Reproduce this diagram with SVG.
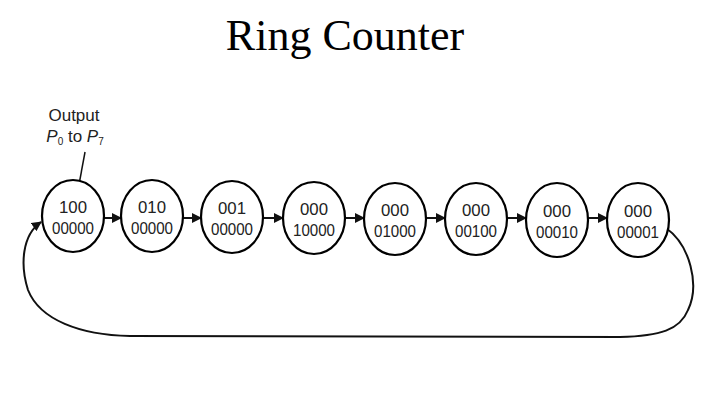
<svg xmlns="http://www.w3.org/2000/svg" width="720" height="405" viewBox="0 0 720 405">
<defs>
<style>
.n{fill:#fff;stroke:#000;stroke-width:2.2}
.t{font-family:"Liberation Sans",Arial,sans-serif;font-size:17px;fill:#222;text-anchor:middle}
.c{fill:none;stroke:#111;stroke-width:2}
</style>
<marker id="ah" viewBox="0 0 10 10" refX="9" refY="5" markerWidth="5" markerHeight="5" orient="auto" markerUnits="strokeWidth">
<path d="M0,0 L10,5 L0,10 z" fill="#111"/>
</marker>
</defs>
<rect width="720" height="405" fill="#fff"/>
<text x="345" y="50" font-family="Liberation Serif,'Times New Roman',serif" font-size="44" text-anchor="middle" fill="#000">Ring Counter</text>
<g id="label">
<text x="74" y="121" class="t" font-size="16">Output</text>
<text x="75" y="142" class="t" font-size="16"><tspan font-style="italic">P</tspan><tspan font-size="10" dy="3">0</tspan><tspan dy="-3"> to </tspan><tspan font-style="italic">P</tspan><tspan font-size="10" dy="3">7</tspan></text>
<line x1="85" y1="152" x2="78" y2="190" stroke="#111" stroke-width="1.5"/>
</g>
<g id="connectors">
<line class="c" x1="104" y1="218" x2="121" y2="218" marker-end="url(#ah)"/>
<line class="c" x1="183" y1="218" x2="201" y2="218" marker-end="url(#ah)"/>
<line class="c" x1="263" y1="218" x2="283" y2="218" marker-end="url(#ah)"/>
<line class="c" x1="345" y1="218" x2="364" y2="218" marker-end="url(#ah)"/>
<line class="c" x1="426" y1="218" x2="445" y2="218" marker-end="url(#ah)"/>
<line class="c" x1="507" y1="218" x2="526" y2="218" marker-end="url(#ah)"/>
<line class="c" x1="588" y1="218" x2="607" y2="218" marker-end="url(#ah)"/>
<path class="c" d="M666,228 C690,245 700,285 688,310 C680,330 660,336 620,337 L130,336 C80,335 40,320 28,290 C20,265 22,235 41,222" marker-end="url(#ah)"/>
</g>
<g id="n1"><ellipse class="n" cx="73" cy="216" rx="31" ry="36"/><text class="t" x="73" y="213" textLength="28" lengthAdjust="spacingAndGlyphs">100</text><text class="t" x="73" y="234" textLength="42" lengthAdjust="spacingAndGlyphs">00000</text></g>
<g id="n2"><ellipse class="n" cx="152" cy="216" rx="31" ry="36"/><text class="t" x="152" y="213" textLength="28" lengthAdjust="spacingAndGlyphs">010</text><text class="t" x="152" y="234" textLength="42" lengthAdjust="spacingAndGlyphs">00000</text></g>
<g id="n3"><ellipse class="n" cx="232" cy="217" rx="31" ry="36"/><text class="t" x="232" y="214" textLength="28" lengthAdjust="spacingAndGlyphs">001</text><text class="t" x="232" y="235" textLength="42" lengthAdjust="spacingAndGlyphs">00000</text></g>
<g id="n4"><ellipse class="n" cx="314" cy="218" rx="31" ry="36"/><text class="t" x="314" y="215" textLength="28" lengthAdjust="spacingAndGlyphs">000</text><text class="t" x="314" y="236" textLength="42" lengthAdjust="spacingAndGlyphs">10000</text></g>
<g id="n5"><ellipse class="n" cx="395" cy="219" rx="31" ry="36"/><text class="t" x="395" y="216" textLength="28" lengthAdjust="spacingAndGlyphs">000</text><text class="t" x="395" y="237" textLength="42" lengthAdjust="spacingAndGlyphs">01000</text></g>
<g id="n6"><ellipse class="n" cx="476" cy="219" rx="31" ry="36"/><text class="t" x="476" y="216" textLength="28" lengthAdjust="spacingAndGlyphs">000</text><text class="t" x="476" y="237" textLength="42" lengthAdjust="spacingAndGlyphs">00100</text></g>
<g id="n7"><ellipse class="n" cx="557" cy="220" rx="31" ry="37"/><text class="t" x="557" y="217" textLength="28" lengthAdjust="spacingAndGlyphs">000</text><text class="t" x="557" y="238" textLength="42" lengthAdjust="spacingAndGlyphs">00010</text></g>
<g id="n8"><ellipse class="n" cx="638" cy="220" rx="31" ry="37"/><text class="t" x="638" y="217" textLength="28" lengthAdjust="spacingAndGlyphs">000</text><text class="t" x="638" y="238" textLength="42" lengthAdjust="spacingAndGlyphs">00001</text></g>
</svg>
